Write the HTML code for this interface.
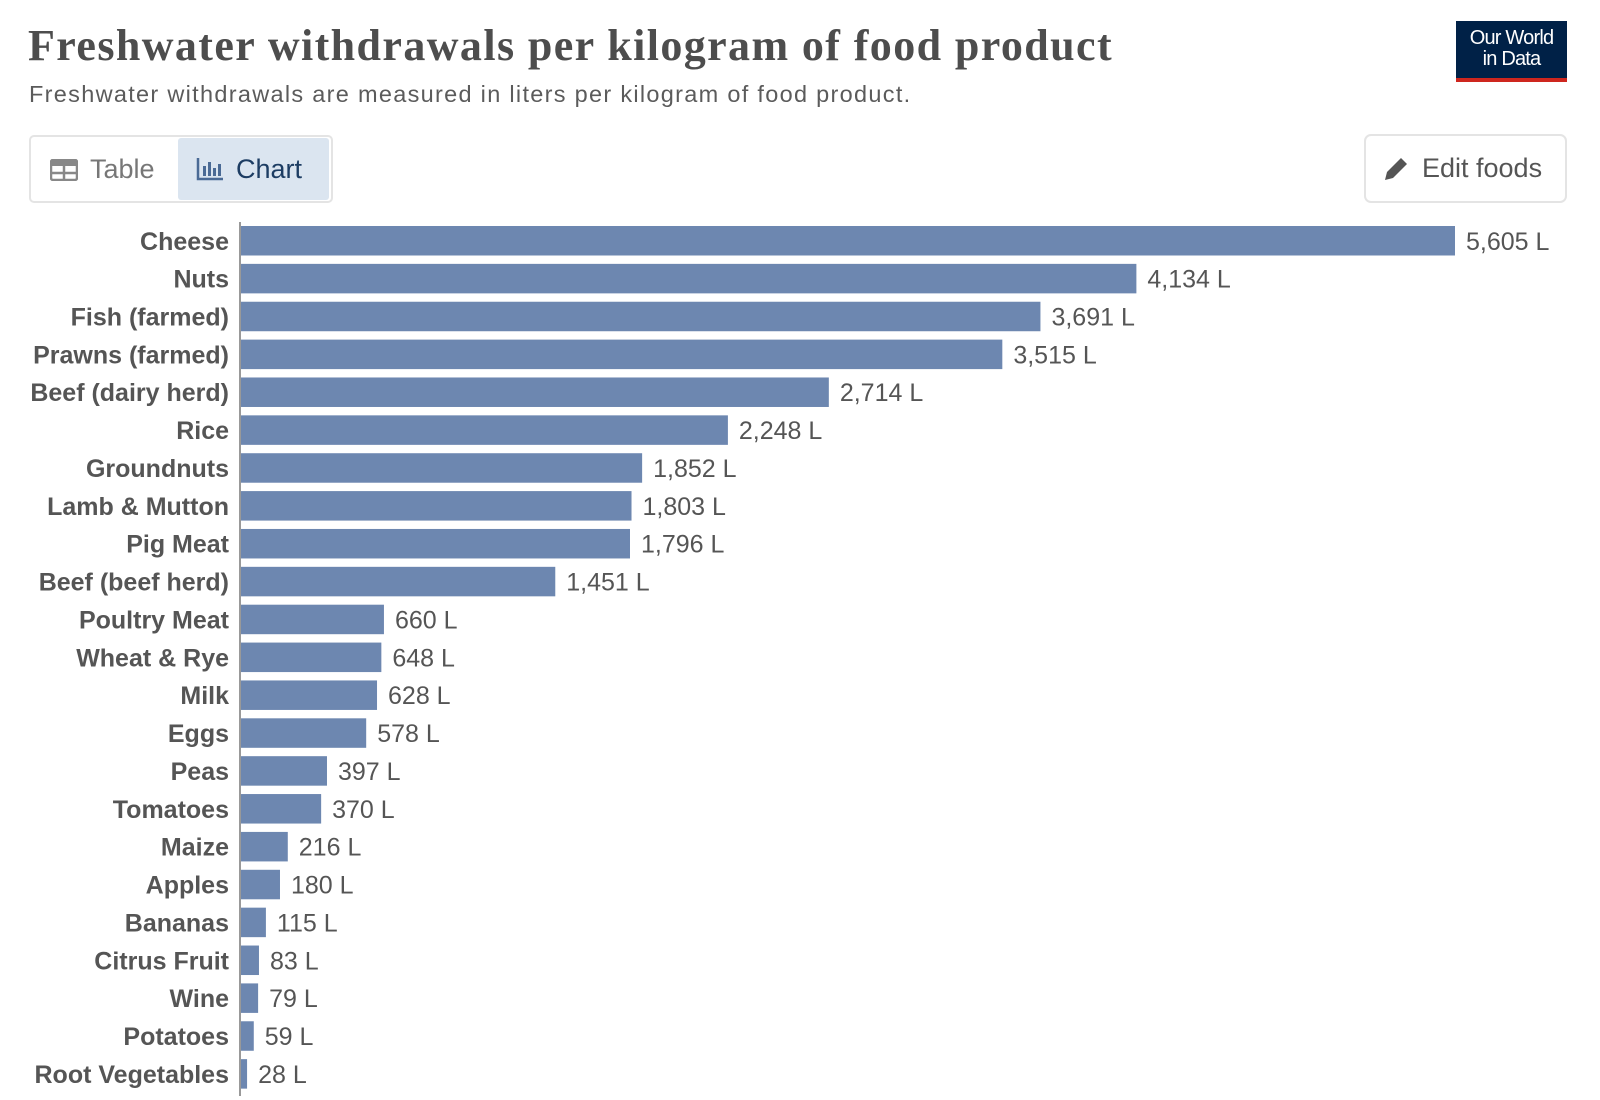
<!DOCTYPE html>
<html><head><meta charset="utf-8"><style>
body{margin:0;width:1600px;height:1100px;background:#fff;font-family:"Liberation Sans",sans-serif;overflow:hidden;position:relative}
.abs{position:absolute}
</style></head><body>
<div class="abs" style="left:28px;top:20px;font-family:'Liberation Serif',serif;font-weight:bold;font-size:44px;color:#4d4d4d;letter-spacing:1.4px">Freshwater withdrawals per kilogram of food product</div>
<div class="abs" style="left:29px;top:81px;font-size:23.5px;color:#5b5b5b;letter-spacing:1.3px">Freshwater withdrawals are measured in liters per kilogram of food product.</div>
<div class="abs" style="left:1456px;top:21px;width:111px;height:61px;background:#002147;border-bottom:4px solid #ce261e;box-sizing:border-box;color:#fff;font-size:20px;line-height:21px;text-align:center;padding-top:7px;letter-spacing:-0.8px">Our World<br>in Data</div>
<div class="abs" style="left:29px;top:135px;width:304px;height:68px;border:2px solid #e4e4e4;border-radius:5px;box-sizing:border-box"></div>
<div class="abs" style="left:50px;top:154px;font-size:27px;color:#777;display:flex;align-items:center;gap:12px">
<svg width="28" height="22" viewBox="0 0 28 22"><rect x="1" y="1" width="26" height="20" rx="2" fill="none" stroke="#888" stroke-width="2.5"/><rect x="1" y="1" width="26" height="6" fill="#888"/><line x1="14" y1="7" x2="14" y2="21" stroke="#888" stroke-width="2.5"/><line x1="1" y1="14" x2="27" y2="14" stroke="#888" stroke-width="2.5"/></svg>Table</div>
<div class="abs" style="left:178px;top:138px;width:151px;height:62px;background:#dbe5f0;border-radius:3px;font-size:27px;color:#1d3d63;display:flex;align-items:center;gap:12px;padding-left:18px;box-sizing:border-box">
<svg width="28" height="24" viewBox="0 0 28 24"><path d="M2 1V22H27" fill="none" stroke="#4a6a95" stroke-width="2.5"/><rect x="7" y="9" width="3" height="10" fill="#4a6a95"/><rect x="12" y="5" width="3" height="14" fill="#4a6a95"/><rect x="17" y="11" width="3" height="8" fill="#4a6a95"/><rect x="22" y="7" width="3" height="12" fill="#4a6a95"/></svg>Chart</div>
<div class="abs" style="left:1364px;top:134px;width:203px;height:69px;border:2px solid #e4e4e4;border-radius:7px;box-sizing:border-box;font-size:27px;color:#555;display:flex;align-items:center;gap:12px;padding-left:16px">
<svg width="28" height="28" viewBox="0 0 28 28"><path d="M3 25L5 17L19 3L25 9L11 23Z" fill="#555"/></svg>Edit foods</div>
<svg class="abs" style="left:0;top:0" width="1600" height="1100" id="chart"></svg>
<script>
const categories=["Cheese","Nuts","Fish (farmed)","Prawns (farmed)","Beef (dairy herd)","Rice","Groundnuts","Lamb & Mutton","Pig Meat","Beef (beef herd)","Poultry Meat","Wheat & Rye","Milk","Eggs","Peas","Tomatoes","Maize","Apples","Bananas","Citrus Fruit","Wine","Potatoes","Root Vegetables"];
const values=[5605,4134,3691,3515,2714,2248,1852,1803,1796,1451,660,648,628,578,397,370,216,180,115,83,79,59,28];
const svg=document.getElementById('chart');
const NS="http://www.w3.org/2000/svg";
const x0=240,maxW=1214,maxV=5605,top0=226,step=37.87,bh=29.5;
const xs=v=>v/maxV*maxW;
const ys=i=>top0+i*step;
const fmt=v=>v.toLocaleString('en-US')+' L';
const ax=document.createElementNS(NS,'line');


ax.setAttribute('x1',x0);ax.setAttribute('x2',x0);ax.setAttribute('y1',222);ax.setAttribute('y2',1096);
ax.setAttribute('stroke','#999');ax.setAttribute('stroke-width','2');
svg.appendChild(ax);
categories.forEach((c,i)=>{
 const y=ys(i);
 const r=document.createElementNS(NS,'rect');
 
 
 r.setAttribute('x',x0+1);r.setAttribute('y',y);r.setAttribute('width',Math.max(xs(values[i]),1));r.setAttribute('height',bh);r.setAttribute('fill','#6d87b0');
 svg.appendChild(r);
 const t=document.createElementNS(NS,'text');
 
 
 t.setAttribute('x',x0-11);t.setAttribute('y',y+bh/2+9);t.setAttribute('text-anchor','end');
 t.setAttribute('font-size','25');t.setAttribute('font-weight','bold');t.setAttribute('fill','#555');t.setAttribute('font-family','Liberation Sans, sans-serif');
 t.textContent=c;svg.appendChild(t);
 const v=document.createElementNS(NS,'text');
 
 
 v.setAttribute('x',x0+xs(values[i])+12);v.setAttribute('y',y+bh/2+9);
 v.setAttribute('font-size','25');v.setAttribute('fill','#555');v.setAttribute('font-family','Liberation Sans, sans-serif');
 v.textContent=fmt(values[i]);svg.appendChild(v);
});
</script>
</body></html>
